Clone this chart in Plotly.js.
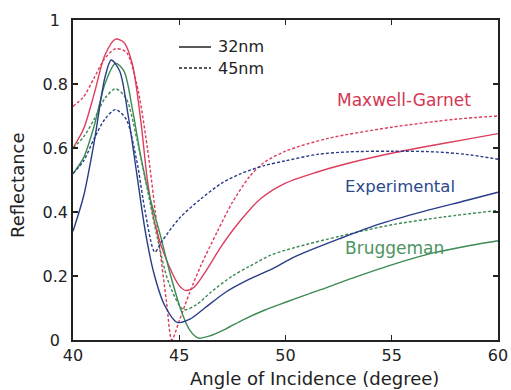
<!DOCTYPE html>
<html>
<head>
<meta charset="utf-8">
<script src="https://cdn.plot.ly/plotly-3.0.1.min.js"></script>
<style>html,body{margin:0;padding:0;background:#fff;}#chart{width:511px;height:390px;}</style>
</head>
<body>
<div id="chart"></div>
<script>
// Angle of incidence (degree) and reflectance for each series
const angleMG32 = [40, 40.5, 41, 41.5, 42, 42.4, 42.8, 43.2, 43.5, 43.9, 44.4, 45, 45.3, 45.7, 46.2, 47, 47.9, 48.8, 50, 51.5, 53, 54.6, 56.5, 58.5, 60];
const reflMG32  = [0.60, 0.66, 0.77, 0.89, 0.94, 0.93, 0.86, 0.68, 0.50, 0.35, 0.25, 0.17, 0.155, 0.165, 0.21, 0.295, 0.375, 0.44, 0.49, 0.525, 0.553, 0.578, 0.603, 0.627, 0.645];

const angleMG45 = [40, 40.5, 41, 41.5, 42, 42.5, 43, 43.5, 44, 44.4, 44.65, 45, 45.5, 46, 46.8, 47.5, 48.3, 49, 50, 52, 55, 58, 60];
const reflMG45  = [0.73, 0.76, 0.82, 0.88, 0.91, 0.90, 0.80, 0.60, 0.33, 0.12, 0.0, 0.06, 0.15, 0.23, 0.34, 0.43, 0.51, 0.555, 0.59, 0.63, 0.665, 0.69, 0.70];

const angleEX32 = [40, 40.5, 41, 41.5, 41.8, 42.2, 42.6, 43.0, 43.4, 43.8, 44.3, 44.9, 45.5, 46.2, 47.2, 48.3, 49.3, 50.5, 52.6, 54.4, 56.5, 58.5, 60];
const reflEX32  = [0.34, 0.45, 0.62, 0.82, 0.875, 0.84, 0.70, 0.52, 0.34, 0.21, 0.11, 0.055, 0.065, 0.10, 0.15, 0.19, 0.22, 0.262, 0.318, 0.362, 0.402, 0.436, 0.462];

const angleEX45 = [40, 40.5, 41, 41.5, 42, 42.5, 43, 43.4, 43.85, 44.2, 45, 46, 47, 47.9, 49, 50, 51.5, 53, 55, 57, 58.5, 60];
const reflEX45  = [0.52, 0.56, 0.63, 0.69, 0.72, 0.69, 0.56, 0.40, 0.275, 0.31, 0.38, 0.44, 0.49, 0.52, 0.545, 0.56, 0.58, 0.588, 0.59, 0.588, 0.58, 0.565];

const angleBR32 = [40, 40.5, 41, 41.5, 42, 42.4, 42.8, 43.2, 43.6, 44.1, 44.6, 45.1, 45.5, 45.9, 46.4, 47.2, 48, 49, 50, 51, 52, 53, 54, 55, 56, 57, 58.5, 60];
const reflBR32  = [0.52, 0.57, 0.67, 0.80, 0.865, 0.84, 0.72, 0.57, 0.45, 0.33, 0.20, 0.09, 0.03, 0.006, 0.012, 0.035, 0.063, 0.093, 0.118, 0.142, 0.165, 0.19, 0.213, 0.235, 0.255, 0.273, 0.293, 0.31];

const angleBR45 = [40, 40.5, 41, 41.5, 42, 42.5, 43, 43.5, 44, 44.5, 45.2, 45.8, 46.5, 47.5, 48.3, 49.3, 50.5, 52.6, 55, 57.5, 60];
const reflBR45  = [0.60, 0.635, 0.69, 0.755, 0.785, 0.755, 0.63, 0.47, 0.31, 0.18, 0.095, 0.11, 0.15, 0.20, 0.23, 0.265, 0.29, 0.325, 0.36, 0.385, 0.405];

const xTicks = [40, 45, 50, 55, 60];
const yTicks = [0, 0.2, 0.4, 0.6, 0.8, 1];
const yTickText = ['0\u2002', '0.2', '0.4', '0.6', '0.8', '1\u2002'];

const RED = '#dd3d5c', BLUE = '#283c88', GREEN = '#3d8a55';
const FONT = 'DejaVu Sans';

function tr(x, y, color, dash) {
  return {x: x, y: y, type: 'scatter', mode: 'lines', showlegend: false, hoverinfo: 'skip',
    line: {color: color, width: 1.4, dash: dash, shape: 'spline', smoothing: 0.8}};
}

const data = [
  tr(angleMG45, reflMG45, RED, '3px,2px'),
  tr(angleMG32, reflMG32, RED, 'solid'),
  tr(angleBR45, reflBR45, GREEN, '3px,2px'),
  tr(angleBR32, reflBR32, GREEN, 'solid'),
  tr(angleEX45, reflEX45, BLUE, '3px,2px'),
  tr(angleEX32, reflEX32, BLUE, 'solid')
];

const L = 73, R = 498, T = 20, B = 340;
const px = v => (v - L) / (R - L);
const py = v => (B - v) / (B - T);

const layout = {
  width: 511, height: 390,
  margin: {l: 73, r: 13, t: 20, b: 50},
  paper_bgcolor: '#fff', plot_bgcolor: '#fff',
  showlegend: false,
  xaxis: {range: [40, 60], tickvals: xTicks, ticks: 'inside', ticklen: 5, tickwidth: 1.2, tickcolor: '#222',
    mirror: 'ticks', showline: true, linewidth: 1.8, linecolor: '#222', showgrid: false, zeroline: false,
    tickfont: {family: FONT, size: 16, color: '#222'}},
  yaxis: {range: [0, 1], tickvals: yTicks, ticktext: yTickText, ticks: 'inside', ticklen: 5, tickwidth: 1.2, tickcolor: '#222',
    mirror: 'ticks', showline: true, linewidth: 1.8, linecolor: '#222', showgrid: false, zeroline: false,
    tickfont: {family: FONT, size: 16, color: '#222'}},
  shapes: [
    {type: 'line', xref: 'paper', yref: 'paper', x0: px(179), x1: px(211), y0: py(47), y1: py(47), line: {color: '#222', width: 1.5}},
    {type: 'line', xref: 'paper', yref: 'paper', x0: px(179), x1: px(211), y0: py(68), y1: py(68), line: {color: '#222', width: 1.5, dash: '3px,2px'}}
  ],
  annotations: [
    {text: '32nm', xref: 'paper', yref: 'paper', x: px(216), y: py(47), xanchor: 'left', yanchor: 'middle', showarrow: false, font: {family: FONT, size: 16, color: '#222'}},
    {text: '45nm', xref: 'paper', yref: 'paper', x: px(216), y: py(68), xanchor: 'left', yanchor: 'middle', showarrow: false, font: {family: FONT, size: 16, color: '#222'}},
    {text: 'Maxwell-Garnet', xref: 'paper', yref: 'paper', x: px(404), y: py(100), xanchor: 'center', yanchor: 'middle', showarrow: false, font: {family: FONT, size: 17, color: '#d43652'}},
    {text: 'Experimental', xref: 'paper', yref: 'paper', x: px(400), y: py(186), xanchor: 'center', yanchor: 'middle', showarrow: false, font: {family: FONT, size: 16.5, color: '#2c4a8c'}},
    {text: 'Bruggeman', xref: 'paper', yref: 'paper', x: px(394), y: py(248), xanchor: 'center', yanchor: 'middle', showarrow: false, font: {family: FONT, size: 17, color: '#4c9460'}},
    {text: 'Angle of Incidence (degree)', xref: 'paper', yref: 'paper', x: px(314), y: py(378), xanchor: 'center', yanchor: 'middle', showarrow: false, font: {family: FONT, size: 18, color: '#222'}},
    {text: 'Reflectance', xref: 'paper', yref: 'paper', x: px(17), y: py(185), xanchor: 'center', yanchor: 'middle', textangle: -90, showarrow: false, font: {family: FONT, size: 18, color: '#222'}}
  ]
};

Plotly.newPlot('chart', data, layout, {displayModeBar: false, staticPlot: true});
</script>
</body>
</html>
